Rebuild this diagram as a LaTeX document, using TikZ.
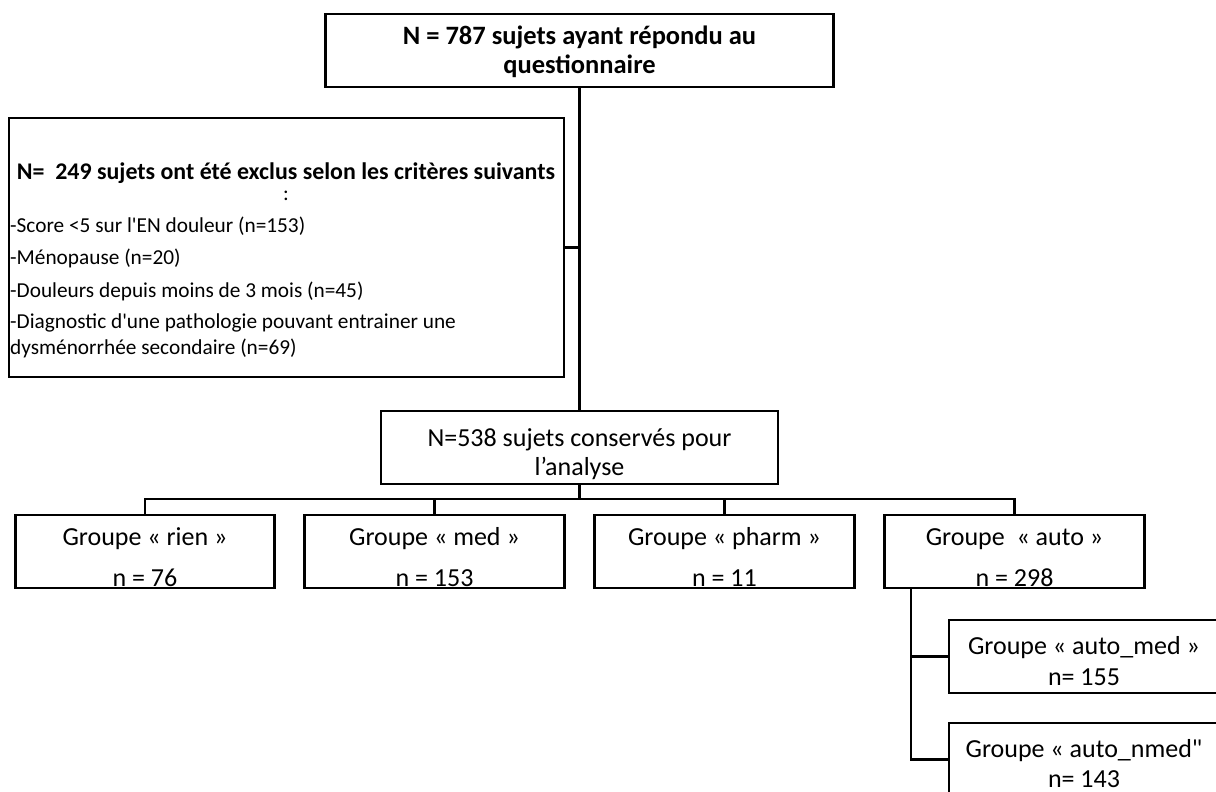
\documentclass[tikz,border=0pt]{standalone}
\usepackage{fontspec}
\setmainfont{Carlito}
\usepackage{tikz}

\begin{document}
\begin{tikzpicture}[x=1pt,y=-1pt,
		box/.style={draw,line width=2.6pt,inner sep=0pt},
		link/.style={line width=2.2pt},
		txt/.style={inner sep=0pt,anchor=base,font=\fontsize{26}{31}\selectfont},
		headtxt/.style={inner sep=0pt,anchor=base,font=\bfseries\fontsize{26.5}{31}\selectfont},
		titletxt/.style={inner sep=0pt,anchor=base,font=\bfseries\fontsize{23.9}{28}\selectfont},
		itemtxt/.style={inner sep=0pt,anchor=base west,font=\fontsize{21.3}{26}\selectfont},]
		\useasboundingbox (0,0) rectangle (1216,792);
		\clip (0,0) rectangle (1216,792);
		%boxes
		\node[box,minimum width=508pt,minimum height=73pt] (total) at (579.5,50.5) {};
		\node[box,minimum width=555pt,minimum height=259pt] (excl) at (286.5,247.5) {};
		\node[box,minimum width=397pt,minimum height=73pt] (kept) at (579.5,447.5) {};
		\node[box,minimum width=259.5pt,minimum height=73pt] (rien) at (145,551.5) {};
		\node[box,minimum width=259.5pt,minimum height=73pt] (med) at (434.5,551.5) {};
		\node[box,minimum width=259.5pt,minimum height=73pt] (pharm) at (724.5,551.5) {};
		\node[box,minimum width=259.5pt,minimum height=73pt] (auto) at (1014.5,551.5) {};
		\node[box,minimum width=270pt,minimum height=73pt] (automed) at (1084,656.5) {};
		\node[box,minimum width=270pt,minimum height=73pt] (autonmed) at (1084,759.5) {};
		%texts
		\node[headtxt] (total1) at (579.5,45) {N = 787 sujets ayant répondu au};
		\node[headtxt] (total2) at (579.5,74) {questionnaire};
		\node[titletxt] (excltitle) at (286,179) {N=\ \ 249 sujets ont été exclus selon les critères suivants};
		\node[txt,font=\fontsize{21.3}{26}\selectfont] (exclcolon) at (286,200) {:};
		\node[itemtxt] (crit1) at (10,232) {-Score <5 sur l\textquotesingle EN douleur (n=153)};
		\node[itemtxt] (crit2) at (10,264) {-Ménopause (n=20)};
		\node[itemtxt] (crit3) at (10,297) {-Douleurs depuis moins de 3 mois (n=45)};
		\node[itemtxt] (crit4) at (10,328) {-Diagnostic d\textquotesingle une pathologie pouvant entrainer une};
		\node[itemtxt] (crit5) at (10,354) {dysménorrhée secondaire (n=69)};
		\node[txt] (kept1) at (579.5,446) {N=538 sujets conservés pour};
		\node[txt] (kept2) at (579.5,475) {l’analyse};
		\node[txt] (rien1) at (145,545) {Groupe « rien »};
		\node[txt] (rien2) at (145,586) {n = 76};
		\node[txt] (med1) at (434.5,545) {Groupe « med »};
		\node[txt] (med2) at (434.5,586) {n = 153};
		\node[txt] (pharm1) at (724.5,545) {Groupe « pharm »};
		\node[txt] (pharm2) at (724.5,586) {n = 11};
		\node[txt] (auto1) at (1014.5,545) {Groupe\ \ « auto »};
		\node[txt] (auto2) at (1014.5,586) {n = 298};
		\node[txt] (automed1) at (1084,654) {Groupe « auto\_med »};
		\node[txt] (automed2) at (1084,685) {n= 155};
		\node[txt] (autonmed1) at (1084,757) {Groupe « auto\_nmed\textquotedbl};
		\node[txt] (autonmed2) at (1084,787) {n= 143};
		%links
		\coordinate (bus) at (579.5,499);
		\coordinate (trunk) at ([xshift=-103.5pt]auto.south);
		\draw[link] (total.south) -- (kept.north);
		\draw[link] (excl.east) -- (excl.east -| total.south);
		\draw[link] (kept.south) -- (bus);
		\draw[link] (rien.north) |- (bus) -| (auto.north);
		\draw[link] (med.north) -- (med.north |- bus);
		\draw[link] (pharm.north) -- (pharm.north |- bus);
		\draw[link] (trunk) |- (autonmed.west);
		\draw[link] (automed.west) -- (automed.west -| trunk);
	\end{tikzpicture}
\end{document}
